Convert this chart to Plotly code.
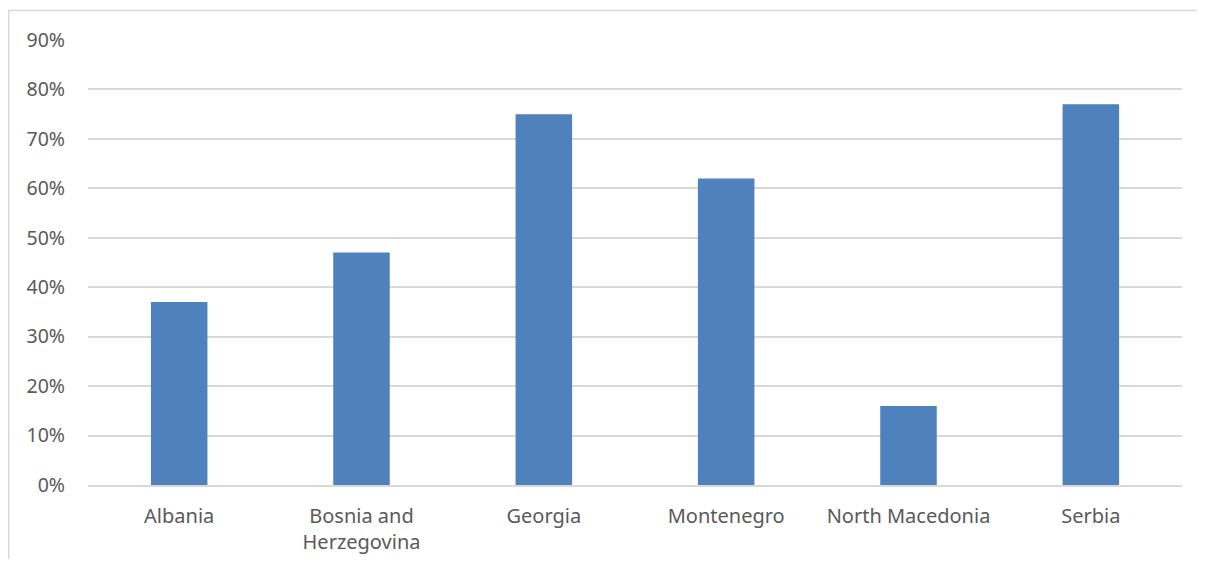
import plotly.graph_objects as go

categories = ["Albania", "Bosnia and<br>Herzegovina", "Georgia", "Montenegro", "North Macedonia", "Serbia"]
values = [0.37, 0.47, 0.75, 0.62, 0.16, 0.77]
tick_vals = [0, 0.1, 0.2, 0.3, 0.4, 0.5, 0.6, 0.7, 0.8, 0.9]

W, H = 1197, 551
L, R, T, B = 80, 23, 32, 74
pw = W - L - R
ph = H - T - B

fig = go.Figure()
fig.add_trace(go.Bar(x=categories, y=values, marker=dict(color="#4F81BD", line=dict(width=0))))

def px_x(p):
    return (p - L) / pw

def px_y(p):
    return (H - B - p) / ph

fig.update_layout(
    width=W, height=H,
    margin=dict(l=L, r=R, t=T, b=B, autoexpand=False),
    paper_bgcolor="white", plot_bgcolor="white",
    bargap=0.69,
    showlegend=False,
    font=dict(family="Noto Sans", size=20, color="#595959"),
    xaxis=dict(showgrid=False, showline=True, linecolor="#D9D9D9", linewidth=1.5, automargin=False,
               ticks="", ticklabelstandoff=12, tickfont=dict(size=20, color="#595959")),
    yaxis=dict(range=[0, 0.9], tickvals=tick_vals, tickformat=".0%", showgrid=True, automargin=False,
               gridcolor="#D9D9D9", gridwidth=1.5, zeroline=False, showline=False,
               ticks="", ticklabelstandoff=22, tickfont=dict(size=19.5, color="#595959")),
    shapes=[dict(type="path", xref="paper", yref="paper",
                 path=f"M {px_x(0.75)} {px_y(600)} L {px_x(0.75)} {px_y(2.5)} L {px_x(1195.5)} {px_y(2.5)} L {px_x(1195.5)} {px_y(600)}",
                 line=dict(color="#D9D9D9", width=1.5), layer="below")],
)

fig.write_html("out.html")
